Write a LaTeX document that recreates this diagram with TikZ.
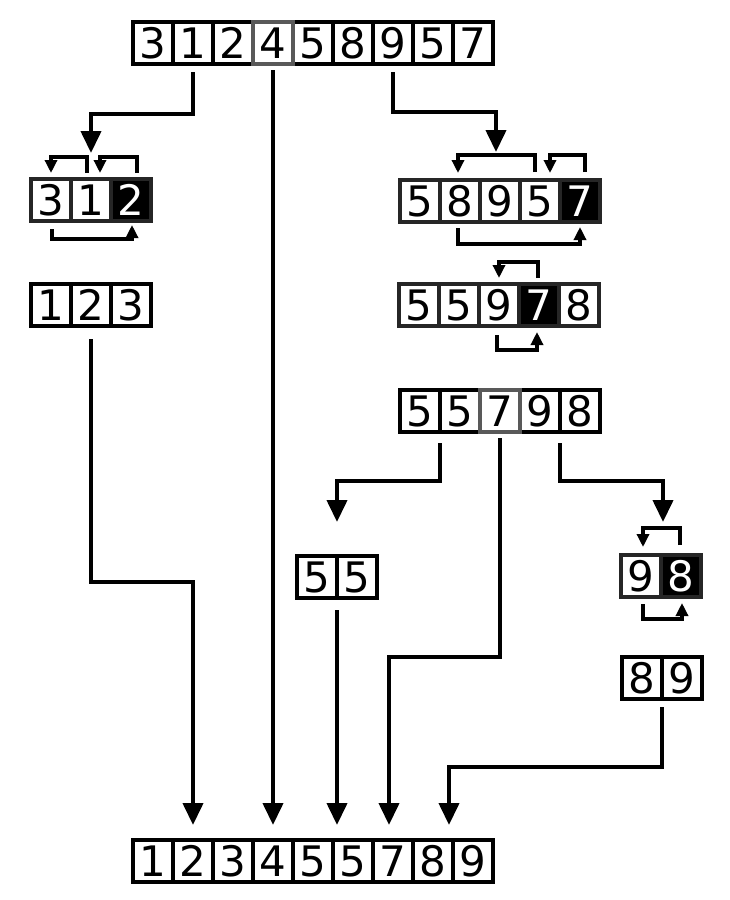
\documentclass[tikz,border=0pt]{standalone}
\usepackage{fontspec}
\setmainfont{DejaVu Sans}
\usetikzlibrary{arrows.meta,calc}
\begin{document}
\begin{tikzpicture}[x=1pt,y=-1pt,
  cell/.style={draw=black,line width=3.5pt,fill=white,minimum width=40pt,minimum height=42pt,
    inner sep=0pt,outer sep=0pt,font=\fontsize{42}{42}\selectfont},
  n/.style={},
  hot/.style={fill=black,text=white},
  dim/.style={draw=black!85},
  pivot/.style={draw=black!65,line width=3.5pt},
  conn/.style={line width=4pt,-{Triangle[width=20pt,length=22pt]}},
  brk/.style={line width=3.5pt,-{Triangle[width=12pt,length=13pt]}}]
\useasboundingbox (0,0) rectangle (730,900);
\newcommand\cellrow[5]{%
  \foreach \d/\s [count=\i] in {#4}
    \node[cell,#5,\s] (#1\i) at ({#2+40*\i-20},{#3+21}) {\d};}
% arrays
\cellrow{t}{133}{22}{3/n,1/n,2/n,4/n,5/n,8/n,9/n,5/n,7/n}{n}
\draw[pivot] (t4.north west) rectangle (t4.south east);
\cellrow{la}{31}{179}{3/n,1/n,2/hot}{dim}
\cellrow{ra}{400}{180}{5/n,8/n,9/n,5/n,7/hot}{dim}
\cellrow{lb}{31}{284}{1/n,2/n,3/n}{n}
\cellrow{rb}{399}{284}{5/n,5/n,9/n,7/hot,8/n}{dim}
\cellrow{rc}{400}{390}{5/n,5/n,7/n,9/n,8/n}{n}
\draw[pivot] (rc3.north west) rectangle (rc3.south east);
\cellrow{m}{297}{556}{5/n,5/n}{n}
\cellrow{s}{621}{555}{9/n,8/hot}{dim}
\cellrow{u}{622}{657}{8/n,9/n}{n}
\cellrow{b}{133}{840}{1/n,2/n,3/n,4/n,5/n,5/n,7/n,8/n,9/n}{n}
% main connectors
\draw[conn] ([yshift=-8pt]t2.south) -- ++(0,42) -| ([yshift=26pt]la2.north);
\draw[conn] ([yshift=-6pt]t4.south) -- ([yshift=15pt]b4.north);
\draw[conn] ([yshift=-8pt]t7.south) -- ++(0,40) -| ([xshift=-4pt,yshift=28pt]ra3.north);
\draw[conn] ([yshift=-13pt]lb2.south) -- ++(0,243) -| ([yshift=15pt]b2.north);
\draw[conn] ([yshift=-11pt]rc1.south east) -- ++(0,38) -| ([yshift=34pt]m1.north east);
\draw[conn] ([yshift=-6pt]rc3.south) -- ++(0,219) -| ([xshift=-4pt,yshift=15pt]b7.north);
\draw[conn] ([yshift=-11pt]rc4.south east) -- ++(0,38) -| ([xshift=2pt,yshift=33pt]s1.north east);
\draw[conn] ([yshift=-12pt]m1.south east) -- ++(0,215);
\draw[conn] ([yshift=-8pt]u1.south east) -- ++(0,60) -| ([xshift=-4pt,yshift=15pt]b8.north east);
% swap brackets
\draw[brk] ([xshift=-4pt,yshift=6pt]la2.north) -- ++(0,-16) -| ([yshift=6pt]la1.north);
\draw[brk] ([xshift=6pt,yshift=6pt]la3.north) -- ++(0,-16) -| ([xshift=9pt,yshift=6pt]la2.north);
\draw[brk] ([xshift=1pt,yshift=-8pt]la1.south) -- ++(0,10) -| ([xshift=1pt,yshift=-4pt]la3.south);
\draw[brk] ([xshift=-5pt,yshift=8pt]ra4.north) -- ++(0,-17) -| ([xshift=-2pt,yshift=7pt]ra2.north);
\draw[brk] ([xshift=5pt,yshift=8pt]ra5.north) -- ++(0,-17) -| ([xshift=10pt,yshift=7pt]ra4.north);
\draw[brk] ([xshift=-2pt,yshift=-6pt]ra2.south) -- ++(0,16) -| ([yshift=-5pt]ra5.south);
\draw[brk] ([xshift=-1pt,yshift=6pt]rb4.north) -- ++(0,-16) -| ([yshift=6pt]rb3.north);
\draw[brk] ([xshift=-2pt,yshift=-9pt]rb3.south) -- ++(0,15) -| ([xshift=-2pt,yshift=-6pt]rb4.south);
\draw[brk] ([xshift=-1pt,yshift=10pt]s2.north) -- ++(0,-17) -| ([xshift=2pt,yshift=8pt]s1.north);
\draw[brk] ([xshift=2pt,yshift=-7pt]s1.south) -- ++(0,15) -| ([xshift=1pt,yshift=-6pt]s2.south);
\end{tikzpicture}
\end{document}
